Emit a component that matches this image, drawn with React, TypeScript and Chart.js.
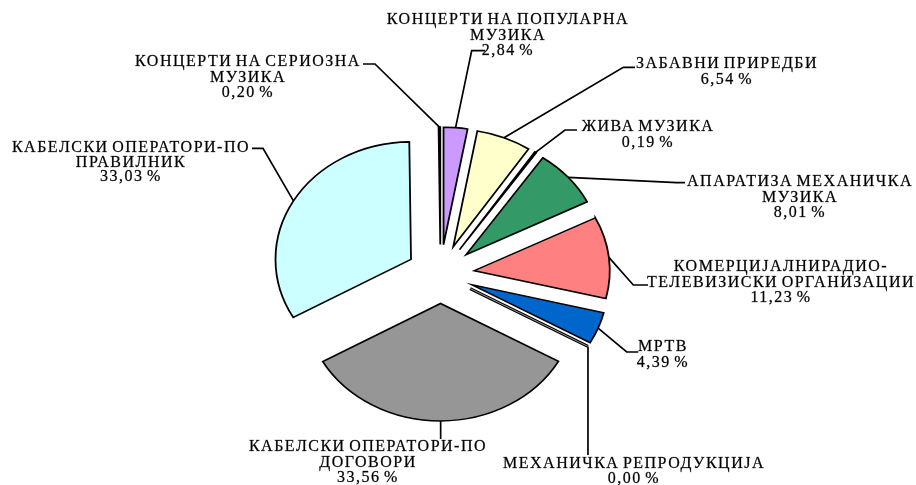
import React, { useEffect, useRef } from 'react';
import { Chart, registerables } from 'chart.js';

Chart.register(...registerables);

// ---- data (clockwise from 12 o'clock) ----
const categories = [
  'КОНЦЕРТИ НА ПОПУЛАРНА МУЗИКА',
  'ЗАБАВНИ ПРИРЕДБИ',
  'ЖИВА МУЗИКА',
  'АПАРАТИЗА МЕХАНИЧКА МУЗИКА',
  'КОМЕРЦИЈАЛНИРАДИО-ТЕЛЕВИЗИСКИ ОРГАНИЗАЦИИ',
  'МРТВ',
  'МЕХАНИЧКА РЕПРОДУКЦИЈА',
  'КАБЕЛСКИ ОПЕРАТОРИ-ПО ДОГОВОРИ',
  'КАБЕЛСКИ ОПЕРАТОРИ-ПО ПРАВИЛНИК',
  'КОНЦЕРТИ НА СЕРИОЗНА МУЗИКА',
];

const labelLines = [
  ['КОНЦЕРТИ НА ПОПУЛАРНА', 'МУЗИКА'],
  ['ЗАБАВНИ ПРИРЕДБИ'],
  ['ЖИВА МУЗИКА'],
  ['АПАРАТИЗА МЕХАНИЧКА', 'МУЗИКА'],
  ['КОМЕРЦИЈАЛНИРАДИО-', 'ТЕЛЕВИЗИСКИ ОРГАНИЗАЦИИ'],
  ['МРТВ'],
  ['МЕХАНИЧКА РЕПРОДУКЦИЈА'],
  ['КАБЕЛСКИ ОПЕРАТОРИ-ПО', 'ДОГОВОРИ'],
  ['КАБЕЛСКИ ОПЕРАТОРИ-ПО', 'ПРАВИЛНИК'],
  ['КОНЦЕРТИ НА СЕРИОЗНА', 'МУЗИКА'],
];

const shares = [2.84, 6.54, 0.19, 8.01, 11.23, 4.39, 0.0, 33.56, 33.03, 0.2];

const colors = [
  '#CC99FF', '#FFFFCC', '#FFFFFF', '#339966', '#FF8080',
  '#0066CC', '#969696', '#969696', '#CCFFFF', '#333333',
];

// ---- layout / style ----
const ELLIPSE_Y = 0.867;
const EXPLODE = 34;
const RADIUS = 135.5;
const LINE_H = 15.5;
const FONT = '16px "Liberation Serif", "Times New Roman", serif';
const LETTER_SPACING = '1.5px';
const WORD_SPACING = '-2px';

// label block: centre x, middle of first line y, line pitch
const labelPos: [number, number, number][] = [
  [508, 20, LINE_H], [727, 64, LINE_H], [648, 127, LINE_H], [800, 182, LINE_H], [781, 267, LINE_H],
  [663, 347, LINE_H], [634, 464, 15], [368, 447, 15.5], [131, 148, 14.5], [248, 62, LINE_H],
];

// leader polyline points after the start on the slice (null x = same x as start)
const leaders: [number | null, number][][] = [
  [[471.7, 50.7], [485, 50.7]],
  [[623.3, 67.3], [635, 67.3]],
  [[565, 130], [577, 130]],
  [[676.7, 182.7], [685, 182.7]],
  [[633.3, 285], [648, 285]],
  [[626.7, 352], [638.3, 352]],
  [[null, 455]],
  [[null, 439]],
  [[263, 148.3], [252, 148.3]],
  [[375, 64], [363, 64]],
];

function shift(arc: any): [number, number] {
  const half = (arc.startAngle + arc.endAngle) / 2;
  return [Math.cos(half) * EXPLODE, Math.sin(half) * EXPLODE];
}

function arcPoint(arc: any, angle: number, r: number): [number, number] {
  const [tx, ty] = shift(arc);
  const px = arc.x + tx + Math.cos(angle) * r;
  const py = arc.y + ty + Math.sin(angle) * r;
  return [px, arc.y + (py - arc.y) * ELLIPSE_Y];
}

const explodedPiePlugin = {
  id: 'explodedEllipsePie',
  beforeDatasetsDraw(chart: any) {
    const ctx = chart.ctx;
    const arcs = chart.getDatasetMeta(0).data;
    const c = arcs[0];

    // slices: drawn by the library's arc elements, each moved out and flattened
    ctx.save();
    ctx.translate(c.x, c.y);
    ctx.scale(1, ELLIPSE_Y);
    ctx.translate(-c.x, -c.y);
    arcs.forEach((arc: any) => {
      const [tx, ty] = shift(arc);
      ctx.save();
      ctx.translate(tx, ty);
      arc.draw(ctx);
      ctx.restore();
    });
    ctx.restore();

    // zero-size slices drawn as a line
    arcs.forEach((arc: any) => {
      if (arc.endAngle - arc.startAngle > 1e-6) return;
      const a = arc.startAngle;
      const p0 = arcPoint(arc, a, 0);
      const p1 = arcPoint(arc, a, arc.outerRadius);
      ctx.save();
      ctx.lineCap = 'butt';
      ctx.strokeStyle = '#000';
      ctx.lineWidth = 3;
      ctx.beginPath();
      ctx.moveTo(p0[0], p0[1]);
      ctx.lineTo(p1[0], p1[1]);
      ctx.stroke();
      ctx.strokeStyle = arc.options.backgroundColor;
      ctx.lineWidth = 1;
      ctx.beginPath();
      ctx.moveTo(p0[0], p0[1]);
      ctx.lineTo(p1[0], p1[1]);
      ctx.stroke();
      ctx.restore();
    });

    // leader lines
    ctx.save();
    ctx.strokeStyle = '#000';
    ctx.lineWidth = 1.7;
    ctx.lineJoin = 'miter';
    arcs.forEach((arc: any, i: number) => {
      const mid = (arc.startAngle + arc.endAngle) / 2;
      const s = arcPoint(arc, mid, arc.outerRadius);
      ctx.beginPath();
      ctx.moveTo(s[0], s[1]);
      leaders[i].forEach(([x, y]) => ctx.lineTo(x === null ? s[0] : x, y));
      ctx.stroke();
    });
    ctx.restore();

    // labels
    ctx.save();
    ctx.font = FONT;
    (ctx as any).letterSpacing = LETTER_SPACING;
    (ctx as any).wordSpacing = WORD_SPACING;
    ctx.fillStyle = '#000';
    ctx.strokeStyle = 'rgba(0,0,0,0.55)';
    ctx.lineWidth = 0.45;
    ctx.textAlign = 'center';
    ctx.textBaseline = 'middle';
    labelLines.forEach((lines, i) => {
      const [x, y, lh] = labelPos[i];
      const all = [...lines, shares[i].toFixed(2).replace('.', ',') + ' %'];
      all.forEach((t, j) => {
        ctx.fillText(t, x, y + j * lh);
        ctx.strokeText(t, x, y + j * lh);
      });
    });
    ctx.restore();
    return false;
  },
};

export default function App() {
  const ref = useRef<HTMLCanvasElement>(null);
  useEffect(() => {
    if (!ref.current) return;
    const chart = new Chart(ref.current, {
      type: 'pie',
      data: {
        labels: categories,
        datasets: [
          {
            data: shares,
            backgroundColor: colors,
            borderColor: '#000',
            borderWidth: 1.8,
            borderJoinStyle: 'miter',
            radius: RADIUS,
          } as any,
        ],
      },
      options: {
        responsive: false,
        animation: false,
        events: [],
        layout: { padding: { left: 0, right: 35, top: 63, bottom: 0 } },
        plugins: { legend: { display: false }, tooltip: { enabled: false } },
      },
      plugins: [explodedPiePlugin],
    });
    return () => chart.destroy();
  }, []);
  return (
    <div style={{ position: 'fixed', left: 0, top: 0, width: 916, height: 485, background: '#fff' }}>
      <canvas ref={ref} width={916} height={485} />
    </div>
  );
}
